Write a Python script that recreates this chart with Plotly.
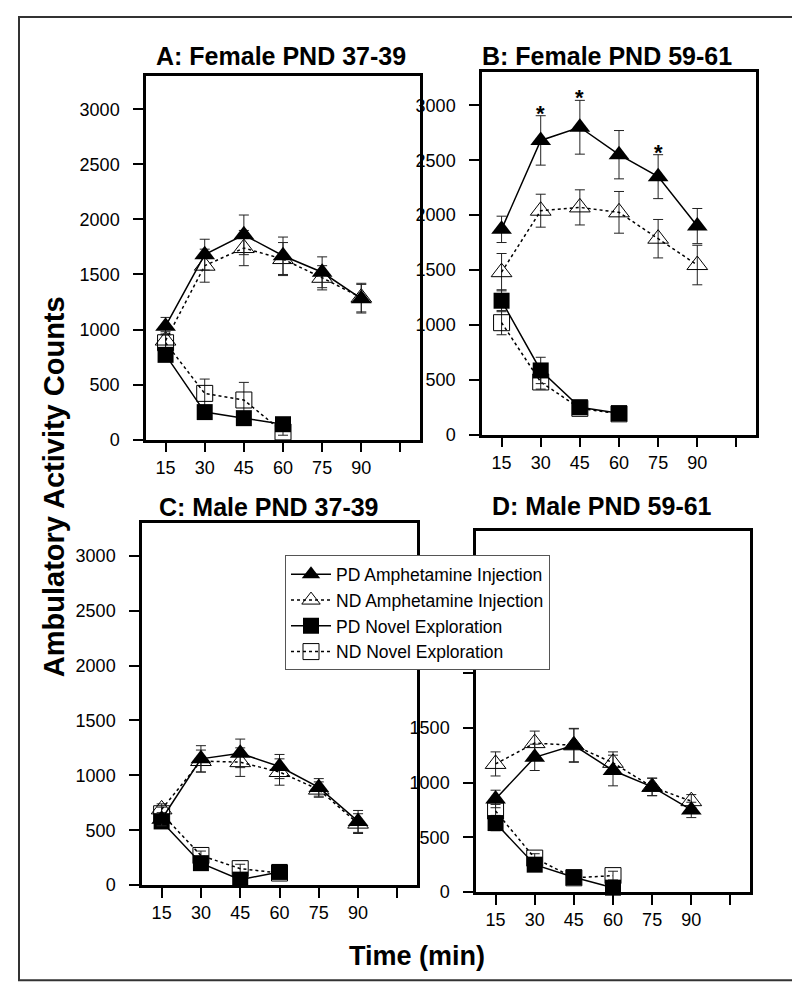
import plotly.graph_objects as go

# ---------------- data ----------------
time_amph = [15, 30, 45, 60, 75, 90]
time_novel = [15, 30, 45, 60]
x_tickvals = [15, 30, 45, 60, 75, 90, 105]
x_ticktext = ["15", "30", "45", "60", "75", "90", ""]
y_tickvals = [0, 500, 1000, 1500, 2000, 2500, 3000]
y_ticktext = ["0", "500", "1000", "1500", "2000", "2500", "3000"]
y_ticktext_d = ["0", "500", "1000", "1500", "", "", ""]

panel_titles = ["A: Female PND 37-39", "B: Female PND 59-61",
                "C: Male PND 37-39", "D: Male PND 59-61"]
series_names = ["PD Amphetamine Injection", "ND Amphetamine Injection",
                "PD Novel Exploration", "ND Novel Exploration"]

# Panel A
A_pd_amph = [1030, 1680, 1860, 1670, 1520, 1280]
A_pd_amph_se = [80, 140, 180, 170, 140, 130]
A_nd_amph = [900, 1580, 1740, 1640, 1470, 1290]
A_nd_amph_se = [80, 150, 160, 150, 110, 130]
A_pd_novel = [770, 250, 195, 140]
A_pd_novel_se = [60, 50, 40, 30]
A_nd_novel = [880, 420, 360, 70]
A_nd_novel_se = [80, 130, 160, 30]

# Panel B
B_pd_amph = [1870, 2680, 2800, 2550, 2350, 1900]
B_pd_amph_se = [120, 225, 245, 220, 200, 160]
B_nd_amph = [1480, 2040, 2070, 2025, 1785, 1545]
B_nd_amph_se = [170, 150, 160, 190, 175, 180]
B_pd_novel = [1220, 585, 250, 195]
B_pd_novel_se = [100, 120, 30, 30]
B_nd_novel = [1020, 480, 240, 190]
B_nd_novel_se = [110, 65, 30, 30]
B_significant = [False, True, True, False, True, False]

# Panel C
C_pd_amph = [600, 1150, 1200, 1080, 890, 580]
C_pd_amph_se = [60, 120, 130, 110, 80, 100]
C_nd_amph = [690, 1130, 1120, 1030, 870, 560]
C_nd_amph_se = [50, 100, 130, 120, 70, 90]
C_pd_novel = [580, 200, 50, 120]
C_pd_novel_se = [50, 60, 30, 20]
C_nd_novel = [650, 270, 150, 110]
C_nd_novel_se = [60, 40, 40, 20]

# Panel D
D_pd_amph = [850, 1230, 1340, 1110, 960, 750]
D_pd_amph_se = [80, 120, 155, 140, 80, 70]
D_nd_amph = [1170, 1360, 1340, 1180, 960, 830]
D_nd_amph_se = [110, 110, 150, 100, 80, 60]
D_pd_novel = [630, 250, 135, 40]
D_pd_novel_se = [70, 50, 30, 20]
D_nd_novel = [740, 310, 130, 150]
D_nd_novel_se = [60, 40, 30, 40]

panels = [
    (A_pd_amph, A_pd_amph_se, A_nd_amph, A_nd_amph_se, A_pd_novel, A_pd_novel_se, A_nd_novel, A_nd_novel_se),
    (B_pd_amph, B_pd_amph_se, B_nd_amph, B_nd_amph_se, B_pd_novel, B_pd_novel_se, B_nd_novel, B_nd_novel_se),
    (C_pd_amph, C_pd_amph_se, C_nd_amph, C_nd_amph_se, C_pd_novel, C_pd_novel_se, C_nd_novel, C_nd_novel_se),
    (D_pd_amph, D_pd_amph_se, D_nd_amph, D_nd_amph_se, D_pd_novel, D_pd_novel_se, D_nd_novel, D_nd_novel_se),
]

# ---------------- layout geometry (pixels) ----------------
W, H = 800, 997
# panel frames: (left, right, top, bottom) in px
frames = [(138, 412, 69, 436), (474, 748, 65, 431), (134, 409, 520, 886), (468, 742, 528, 893)]
title_pos = [(273, 48), (599, 48), (261, 504), (594, 503)]

FONT = "Liberation Sans, Arial, sans-serif"
PAD = "\u00a0\u00a0"  # gap between y tick labels and tick marks
fig = go.Figure()

for i, p in enumerate(panels):
    pd_a, pd_a_se, nd_a, nd_a_se, pd_n, pd_n_se, nd_n, nd_n_se = p
    suffix = "" if i == 0 else str(i + 1)
    xa, ya = "x" + suffix, "y" + suffix
    show = (i == 0)
    err = lambda arr: dict(type="data", array=arr, color="#222", thickness=1, width=5)
    # ND first so PD draws on top
    fig.add_trace(go.Scatter(
        x=time_novel, y=nd_n, error_y=err(nd_n_se), mode="lines+markers",
        name=series_names[3], legendrank=4, showlegend=show,
        line=dict(color="black", width=1.5, dash="dot"),
        marker=dict(symbol="square-open", size=16, color="black", line=dict(width=1)),
        xaxis=xa, yaxis=ya, cliponaxis=False))
    fig.add_trace(go.Scatter(
        x=time_amph, y=nd_a, error_y=err(nd_a_se), mode="lines+markers",
        name=series_names[1], legendrank=2, showlegend=show,
        line=dict(color="black", width=1.5, dash="dot"),
        marker=dict(symbol="triangle-up-open", size=18, color="black", line=dict(width=1)),
        xaxis=xa, yaxis=ya, cliponaxis=False))
    fig.add_trace(go.Scatter(
        x=time_novel, y=pd_n, error_y=err(pd_n_se), mode="lines+markers",
        name=series_names[2], legendrank=3, showlegend=show,
        line=dict(color="black", width=1.5),
        marker=dict(symbol="square", size=16, color="black"),
        xaxis=xa, yaxis=ya, cliponaxis=False))
    fig.add_trace(go.Scatter(
        x=time_amph, y=pd_a, error_y=err(pd_a_se), mode="lines+markers",
        name=series_names[0], legendrank=1, showlegend=show,
        line=dict(color="black", width=1.5),
        marker=dict(symbol="triangle-up", size=18, color="black"),
        xaxis=xa, yaxis=ya, cliponaxis=False))

    l, r, t, b = frames[i]
    axis_common = dict(showline=True, mirror=True, linewidth=2.5, linecolor="black",
                       ticks="outside", ticklen=10, tickwidth=1.5, tickcolor="black",
                       showgrid=False, zeroline=False,
                       tickfont=dict(family=FONT, size=18, color="black"))
    ylabels = y_ticktext_d if i == 3 else y_ticktext
    fig.update_layout(**{
        ("xaxis" + suffix): dict(domain=[l / W, r / W], range=[7.5, 112.5],
                                 tickvals=x_tickvals, ticktext=x_ticktext,
                                 anchor=ya, **axis_common),
        ("yaxis" + suffix): dict(domain=[1 - b / H, 1 - t / H], range=[0, 3300],
                                 tickvals=y_tickvals,
                                 ticktext=[s + PAD if s else s for s in ylabels],
                                 anchor=xa, **axis_common),
    })
    tx, ty = title_pos[i]
    fig.add_annotation(text=panel_titles[i], x=tx / W, y=1 - ty / H, xref="paper", yref="paper",
                       showarrow=False, xanchor="center", yanchor="middle",
                       font=dict(family=FONT, size=25, color="black", weight="bold"))

# significance asterisks in panel B
for k, sig in enumerate(B_significant):
    if sig:
        fig.add_annotation(text="*", x=time_amph[k], y=B_pd_amph[k] + B_pd_amph_se[k],
                           xref="x2", yref="y2", showarrow=False, yanchor="bottom",
                           yshift=-12, font=dict(family=FONT, size=22, color="black", weight="bold"))

# axis titles
fig.add_annotation(text="Ambulatory Activity Counts", x=46 / W, y=1 - 484 / H, xref="paper", yref="paper",
                   textangle=-90, showarrow=False, xanchor="center", yanchor="middle",
                   font=dict(family=FONT, size=29, color="black", weight="bold"))
fig.add_annotation(text="Time (min)", x=409 / W, y=1 - 958 / H, xref="paper", yref="paper",
                   showarrow=False, xanchor="center", yanchor="middle",
                   font=dict(family=FONT, size=27, color="black", weight="bold"))

# outer border
fig.add_shape(type="rect", xref="paper", yref="paper",
              x0=11 / W, x1=788 / W, y0=1 - 982 / H, y1=1 - 9 / H,
              line=dict(color="#333", width=2))

fig.update_layout(
    width=W, height=H, margin=dict(l=0, r=0, t=0, b=0),
    paper_bgcolor="white", plot_bgcolor="white",
    showlegend=True,
    legend=dict(x=277 / W, y=1 - 553 / H, xanchor="left", yanchor="top",
                bgcolor="white", bordercolor="#555", borderwidth=1,
                font=dict(family=FONT, size=17.5, color="black"),
                traceorder="normal", itemwidth=40, tracegroupgap=0),
)

fig.write_html("out.html")
